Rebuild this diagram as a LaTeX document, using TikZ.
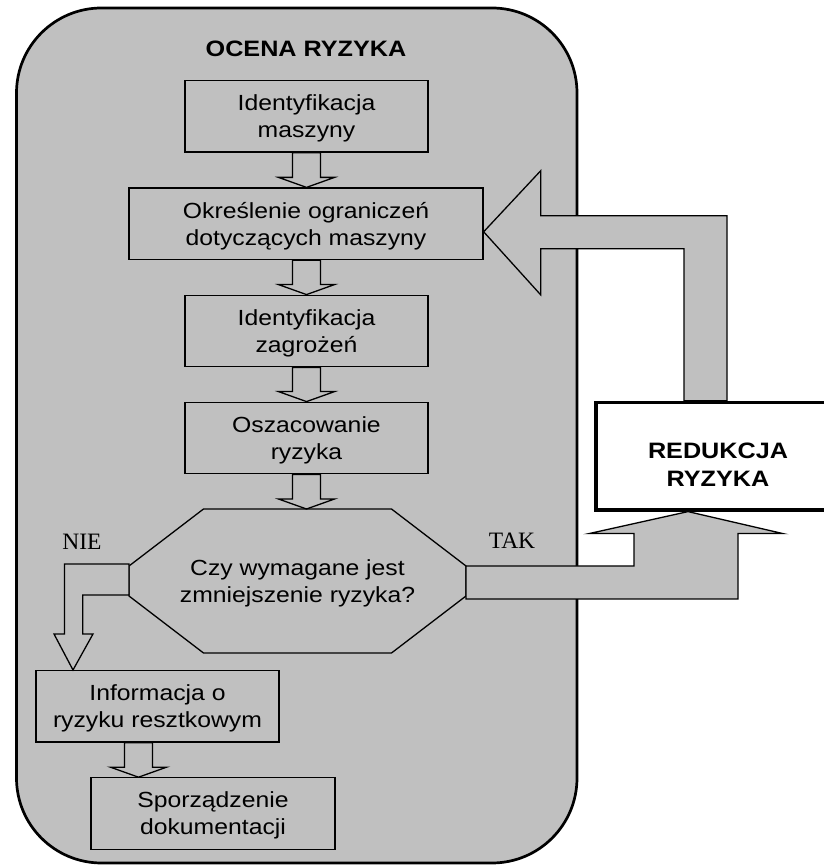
\documentclass[tikz,border=0pt]{standalone}
\usepackage{fontspec}
\setmainfont{Liberation Sans}[FakeStretch=1.13]
\newfontfamily\pismoszeryf{Liberation Serif}
\usepackage{tikz}
\usetikzlibrary{calc}
\definecolor{szary}{RGB}{192,192,192}

\newcommand{\strzalkadol}[3]{%
\draw[strzalka] let \p1=(#2.south), \p2=(#3.north) in
  (#1pt-14pt,\y1) -- (#1pt-14pt,\y2+10pt) -- (#1pt-28pt,\y2+10pt) -- (#1pt,\y2)
  -- (#1pt+28pt,\y2+10pt) -- (#1pt+14pt,\y2+10pt) -- (#1pt+14pt,\y1) -- cycle;}

\begin{document}
\begin{tikzpicture}[x=1pt, y=1pt,
  krok/.style={draw, line width=1.3pt, minimum width=243pt, minimum height=71.5pt,
    inner sep=0pt, align=center, text height=44.2pt, text depth=1.5pt,
    font=\fontsize{21.9pt}{27pt}\selectfont},
  strzalka/.style={draw, line width=1.3pt, fill=szary},
  etykieta/.style={anchor=base, font=\pismoszeryf\fontsize{23.5pt}{28pt}\selectfont},
  naglowek/.style={align=center, font=\bfseries\fontsize{22.3pt}{28pt}\selectfont}]
\path[use as bounding box, clip] (0,0) rectangle (824,865);
\draw[line width=2.7pt, fill=szary, rounded corners=85pt] (16.5,2) rectangle (577,857);
\node[naglowek, anchor=base] (ocena) at (306,808.3) {OCENA RYZYKA};
\node[krok] (maszyna) at (306.5,748.6) {Identyfikacja\\maszyny};
\node[krok, minimum width=354pt] (ograniczenia) at (306,641.2) {Określenie ograniczeń\\dotyczących maszyny};
\node[krok] (zagrozenia) at (306.5,534) {Identyfikacja\\zagrożeń};
\node[krok] (oszacowanie) at (306.5,427) {Oszacowanie\\ryzyka};
\node[krok, draw=none, minimum width=337pt, minimum height=144pt, outer sep=0pt] (pytanie) at (297.5,284) {Czy wymagane jest\\zmniejszenie ryzyka?};
\draw[line width=1.3pt] ([xshift=-94pt]pytanie.north) -- ([xshift=94pt]pytanie.north)
  -- ([yshift=15pt]pytanie.east) -- ([yshift=-15pt]pytanie.east)
  -- ([xshift=94pt]pytanie.south) -- ([xshift=-94pt]pytanie.south)
  -- ([yshift=-15pt]pytanie.west) -- ([yshift=15pt]pytanie.west) -- cycle;
\node[krok] (informacja) at (157.5,158.6) {Informacja o\\ryzyku resztkowym};
\node[krok, minimum width=244pt] (dokumentacja) at (213,51.4) {Sporządzenie\\dokumentacji};
\node[naglowek, draw, line width=3.2pt, fill=white, minimum width=244pt, minimum height=107.5pt,
  inner sep=0pt, text height=62pt, text depth=2pt] (redukcja) at (718,408.75) {REDUKCJA\\RYZYKA};
% strzalki w dol
\strzalkadol{306.5}{maszyna}{ograniczenia}
\strzalkadol{306.5}{ograniczenia}{zagrozenia}
\strzalkadol{306.5}{zagrozenia}{oszacowanie}
\strzalkadol{306.5}{oszacowanie}{pytanie}
\strzalkadol{138.5}{informacja}{dokumentacja}
% TAK
\draw[strzalka] let \p1=(pytanie.east), \p2=(redukcja.south) in
  (\x1,\y1+15pt) -- (\x2-84pt,\y1+15pt) -- (\x2-84pt,\y2-22pt) -- (\x2-129pt,\y2-22pt)
  -- (\x2-30pt,\y2) -- (\x2+65pt,\y2-22pt) -- (\x2+20pt,\y2-22pt) -- (\x2+20pt,\y1-18pt)
  -- (\x1,\y1-18pt) -- cycle;
% NIE
\draw[strzalka] let \p1=(pytanie.west), \p2=(informacja.north) in
  (\x1,\y1+17pt) -- (\x2-93pt,\y1+17pt) -- (\x2-93pt,\y2+36pt) -- (\x2-103.5pt,\y2+36pt)
  -- (\x2-84.5pt,\y2) -- (\x2-64.5pt,\y2+36pt) -- (\x2-74.8pt,\y2+36pt) -- (\x2-74.8pt,\y1-14pt)
  -- (\x1,\y1-14pt) -- cycle;
% powrot
\draw[strzalka] let \p1=(redukcja.north), \p2=(ograniczenia.east) in
  (\x1+9pt,\y1) -- (\x1+9pt,\y2+8pt) -- (\x2+57pt,\y2+8pt) -- (\x2+57pt,\y2+53pt)
  -- (\x2,\y2-8pt) -- (\x2+57pt,\y2-71pt) -- (\x2+57pt,\y2-25pt) -- (\x1-34pt,\y2-25pt)
  -- (\x1-34pt,\y1) -- cycle;
\node[etykieta] (nie) at (82,315) {NIE};
\node[etykieta] (tak) at (512,316) {TAK};
\end{tikzpicture}
\end{document}
